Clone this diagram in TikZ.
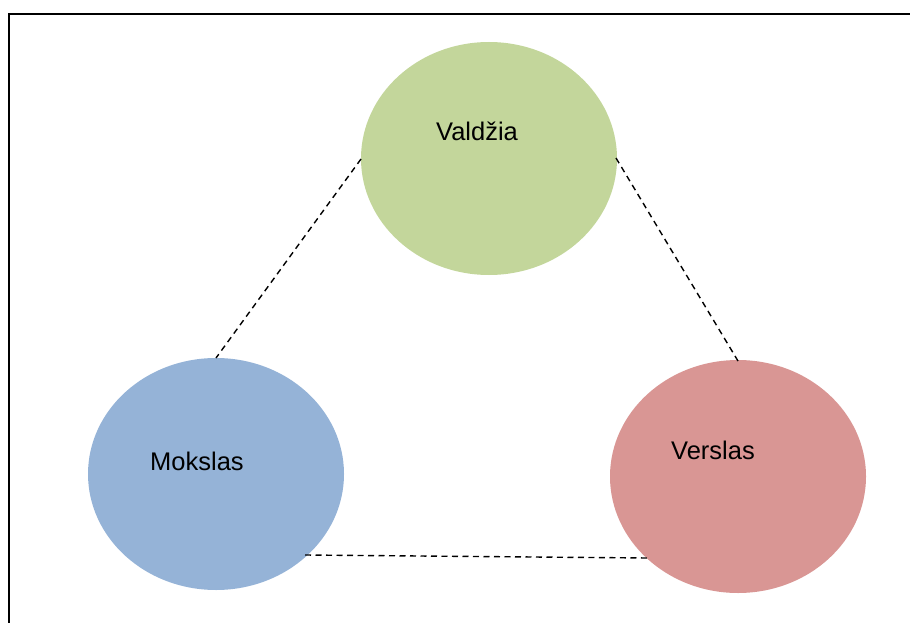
\documentclass[tikz,border=0pt]{standalone}
\usepackage{fontspec}
\setmainfont{Liberation Sans}
\begin{document}
\begin{tikzpicture}[x=1pt,y=-1pt,
  blob/.style={ellipse, inner sep=0pt, draw=none},
  label/.style={font=\fontsize{25.5}{30}\selectfont, inner sep=0pt, anchor=center},
  link/.style={black, line width=1.4pt, dash pattern=on 6pt off 4.5pt}]
\useasboundingbox (0,0) rectangle (910,623);
\clip (0,0) rectangle (910,623);
% frame
\draw[line width=2pt] (9,640) -- (9,14) -- (920,14);
% ellipses
\fill[fill={rgb,255:red,195;green,214;blue,155}] (489,158.5) ellipse [x radius=128, y radius=116.5];
\fill[fill={rgb,255:red,149;green,179;blue,215}] (216,474) ellipse [x radius=128, y radius=116];
\fill[fill={rgb,255:red,217;green,150;blue,148}] (738,476.5) ellipse [x radius=128, y radius=116.5];
% anchor points of the links
\coordinate (vl) at (361,159);
\coordinate (vr) at (616,158);
\coordinate (mt) at (216,358);
\coordinate (mb) at (305,555);
\coordinate (vt) at (738,361);
\coordinate (vb) at (648,558);
\draw[link] (vl) -- (mt);
\draw[link] (vr) -- (vt);
\draw[link] (mb) -- (vb);
% labels
\node[label] (valdzia) at (477,131) {Valdžia};
\node[label] (mokslas) at (197,461) {Mokslas};
\node[label] (verslas) at (713,450) {Verslas};
\end{tikzpicture}
\end{document}
